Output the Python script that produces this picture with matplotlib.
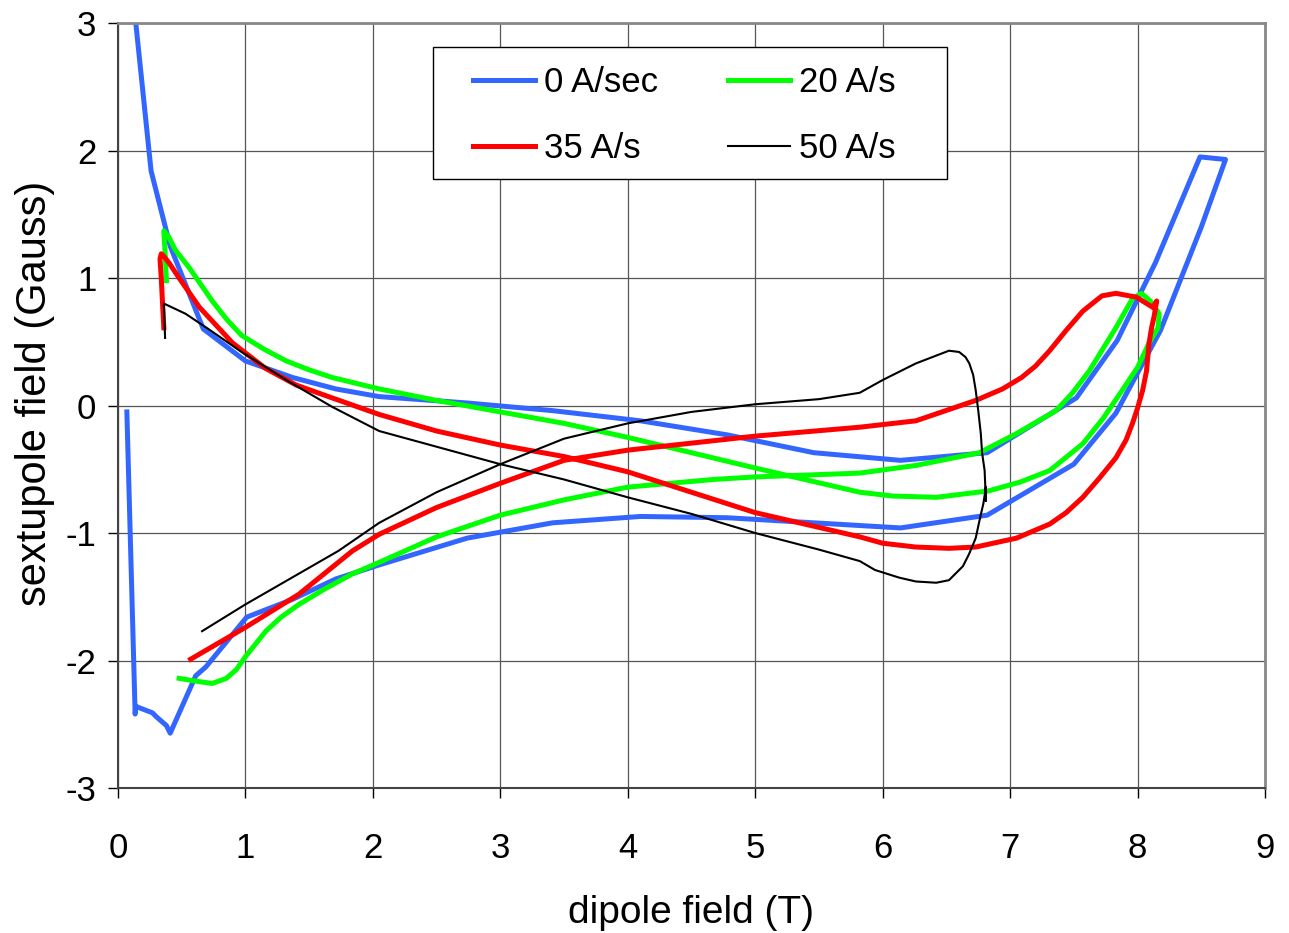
import matplotlib
matplotlib.use('Agg')
import matplotlib.pyplot as plt
from matplotlib.patches import Rectangle

plt.rcParams['font.family'] = ['Liberation Sans', 'DejaVu Sans']
plt.rcParams['axes.unicode_minus'] = False

# 0 A/sec : ramp up then ramp down (piecewise)
b_x = [0.07, 0.135, 0.14, 0.27, 0.30, 0.38, 0.41, 0.61, 0.69, 1.01, 1.37, 1.71, 2.05,
       2.74, 3.41, 4.10, 4.78, 5.46, 6.14, 6.82, 7.50, 7.83, 8.18, 8.50, 8.69,
       8.49, 8.14, 7.84, 7.52, 6.82, 6.14, 5.46, 4.78, 4.10, 3.41, 2.74, 2.05,
       1.71, 1.37, 1.00, 0.67, 0.41, 0.26, 0.14, 0.12]
b_y = [-0.05, -2.42, -2.36, -2.41, -2.44, -2.51, -2.57, -2.12, -2.05, -1.66, -1.52, -1.36, -1.25,
       -1.04, -0.92, -0.87, -0.88, -0.92, -0.96, -0.86, -0.46, -0.06, 0.59, 1.40, 1.93,
       1.95, 1.12, 0.51, 0.06, -0.37, -0.43, -0.37, -0.23, -0.12, -0.04, 0.02, 0.07,
       0.13, 0.22, 0.35, 0.60, 1.25, 1.84, 3.0, 3.3]

# 20 A/s
g_x = [0.48, 0.60, 0.74, 0.85, 0.93, 1.00, 1.08, 1.16, 1.28, 1.42, 1.62, 1.84, 2.05, 2.50,
       3.00, 3.50, 4.00, 4.67, 5.00, 5.82, 6.26, 6.76, 7.05, 7.36, 7.49, 7.62, 7.83, 7.96,
       8.03, 8.10, 8.17, 8.16, 8.09, 8.00, 7.88, 7.73, 7.57, 7.31, 7.08, 6.83, 6.42, 6.08,
       5.82, 5.00, 4.50, 4.00, 3.50, 3.00, 2.50, 2.05, 1.68, 1.50, 1.32, 1.15, 0.97, 0.85,
       0.74, 0.65, 0.56, 0.45, 0.40, 0.36, 0.37, 0.38]
g_y = [-2.14, -2.16, -2.18, -2.14, -2.07, -1.97, -1.87, -1.77, -1.66, -1.56, -1.44, -1.32, -1.23, -1.03,
       -0.86, -0.74, -0.64, -0.58, -0.56, -0.53, -0.47, -0.37, -0.22, -0.04, 0.10, 0.27, 0.61, 0.84,
       0.88, 0.82, 0.72, 0.61, 0.49, 0.30, 0.12, -0.10, -0.30, -0.51, -0.60, -0.67, -0.72, -0.71,
       -0.68, -0.49, -0.37, -0.25, -0.14, -0.05, 0.04, 0.13, 0.22, 0.28, 0.35, 0.44, 0.55, 0.68,
       0.82, 0.95, 1.08, 1.22, 1.32, 1.37, 1.20, 0.98]

# 35 A/s
r_x = [0.57, 1.00, 1.42, 1.84, 2.05, 2.50, 3.00, 3.50, 4.00, 5.00, 5.82, 6.26, 6.73, 6.94,
       7.09, 7.20, 7.31, 7.44, 7.57, 7.72, 7.83, 7.99, 8.12, 8.15, 8.13,
       8.11, 8.09, 8.07, 8.04, 8.00, 7.96, 7.91, 7.83, 7.70, 7.57, 7.44, 7.31, 7.05, 6.73,
       6.52, 6.26, 6.00, 5.82, 5.00, 4.00, 3.50, 3.00, 2.50, 2.05, 1.68, 1.40, 1.16, 0.90,
       0.64, 0.48, 0.40, 0.36, 0.34, 0.33, 0.34, 0.35, 0.36]
r_y = [-1.99, -1.74, -1.48, -1.14, -1.01, -0.80, -0.61, -0.43, -0.35, -0.24, -0.17, -0.12, 0.04, 0.13,
       0.22, 0.31, 0.43, 0.59, 0.74, 0.86, 0.88, 0.85, 0.77, 0.82, 0.70,
       0.61, 0.49, 0.27, 0.12, -0.02, -0.14, -0.27, -0.41, -0.57, -0.72, -0.84, -0.93, -1.04, -1.11,
       -1.12, -1.11, -1.08, -1.03, -0.84, -0.52, -0.40, -0.31, -0.20, -0.07, 0.06, 0.16, 0.29, 0.49,
       0.77, 1.00, 1.12, 1.17, 1.19, 1.15, 1.00, 0.80, 0.61]

# 50 A/s
k_x = [0.66, 1.00, 1.73, 2.05, 2.50, 3.00, 3.50, 4.00, 4.50, 5.00, 5.50, 5.82, 6.00, 6.26,
       6.39, 6.52, 6.60, 6.65, 6.68, 6.71, 6.73, 6.75, 6.77, 6.78, 6.80, 6.81, 6.81,
       6.79, 6.76, 6.73, 6.68, 6.63, 6.57, 6.52, 6.42, 6.26, 6.13, 5.94, 5.82, 5.50, 5.00,
       4.50, 4.00, 3.50, 3.00, 2.05, 1.68, 1.32, 0.97, 0.71, 0.53, 0.36, 0.37]
k_y = [-1.77, -1.56, -1.14, -0.92, -0.68, -0.46, -0.26, -0.14, -0.05, 0.01, 0.05, 0.10, 0.20, 0.33,
       0.38, 0.43, 0.42, 0.38, 0.33, 0.24, 0.12, -0.04, -0.22, -0.37, -0.51, -0.75, -0.64,
       -0.77, -0.90, -1.04, -1.16, -1.26, -1.32, -1.37, -1.39, -1.38, -1.35, -1.29, -1.22, -1.13, -1.00,
       -0.85, -0.72, -0.58, -0.46, -0.20, -0.01, 0.20, 0.42, 0.60, 0.72, 0.80, 0.53]

labels = ['0 A/sec', '20 A/s', '35 A/s', '50 A/s']
xticks = list(range(0, 10))
yticks = list(range(-3, 4))

fig = plt.figure(figsize=(12.89, 9.33), dpi=100)
ax = fig.add_axes([0.0915, 0.1554, 0.8899, 0.8199])

ax.plot(b_x, b_y, color='#3366ff', lw=3.6, label=labels[0], solid_joinstyle='round')
ax.plot(g_x, g_y, color='#00ff00', lw=3.6, label=labels[1], solid_joinstyle='round')
ax.plot(r_x, r_y, color='#ff0000', lw=3.6, label=labels[2], solid_joinstyle='round')
ax.plot(k_x, k_y, color='black', lw=1.5, label=labels[3], solid_joinstyle='round')

ax.set_xlim(0, 9)
ax.set_ylim(-3, 3)
ax.set_xticks(xticks)
ax.set_yticks(yticks)
ax.grid(True, color='#555555', lw=0.9)
ax.set_axisbelow(True)
ax.tick_params(direction='out', length=7.5, width=1, labelsize=25, colors='black')
ax.tick_params(axis='x', pad=24)
ax.tick_params(axis='y', pad=8)

for s in ['top', 'right']:
    ax.spines[s].set_color('#888888')
    ax.spines[s].set_linewidth(2)
for s in ['left', 'bottom']:
    ax.spines[s].set_color('#444444')
    ax.spines[s].set_linewidth(1.5)

ax.set_xlabel('dipole field (T)', fontsize=28, labelpad=22)
ax.set_ylabel('sextupole field (Gauss)', fontsize=30)
ax.yaxis.set_label_coords(-0.055, 0.516)

# legend box drawn separately so the padding can match
ax.add_patch(Rectangle((0.2746, 0.796), 0.4482, 0.1726, transform=ax.transAxes,
                       facecolor='white', edgecolor='black', lw=1, zorder=5))

h, l = ax.get_legend_handles_labels()
order = [0, 2, 1, 3]
leg = ax.legend([h[i] for i in order], [l[i] for i in order], ncol=2,
                loc='upper left', bbox_to_anchor=(0.3095, 0.944),
                fontsize=25, frameon=False,
                handlelength=1.8, handletextpad=0.25, columnspacing=2.0,
                labelspacing=0.95, borderpad=0, borderaxespad=0)
leg.set_zorder(6)

fig.savefig('out.png', dpi=100)
